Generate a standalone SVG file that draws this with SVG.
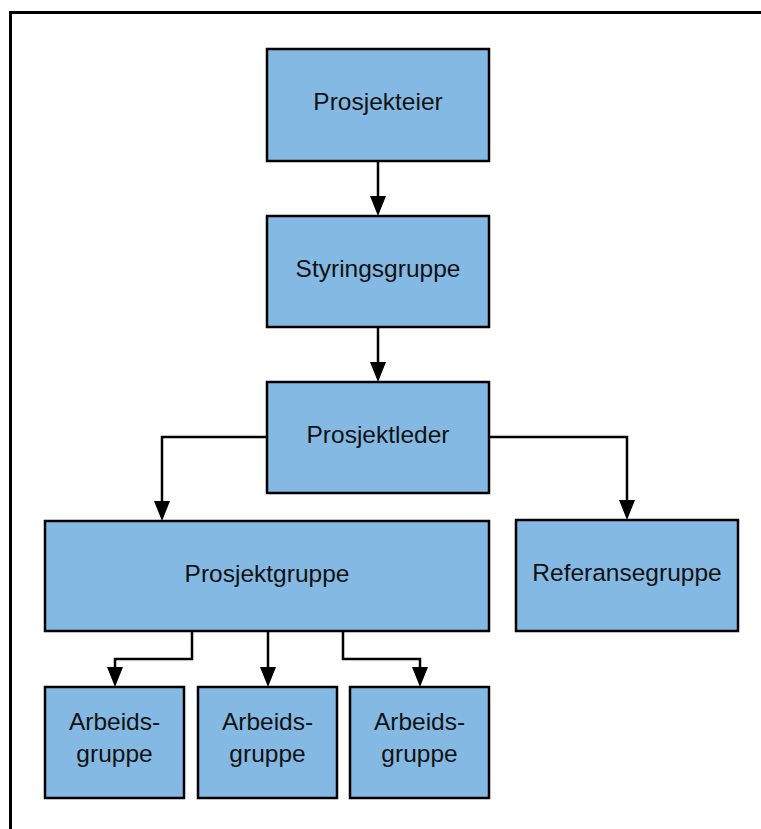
<svg xmlns="http://www.w3.org/2000/svg" width="761" height="829" viewBox="0 0 761 829">
<style>
.box{fill:#84B9E3;stroke:#000;stroke-width:2.5}
.lbl{font-family:"Liberation Sans",Arial,sans-serif;font-size:24.5px;fill:#111;text-anchor:middle}
.c{fill:none;stroke:#000;stroke-width:2.5}
</style>
<rect width="761" height="829" fill="#fff"/>
<path d="M10.5,829 V12.5 H761" fill="none" stroke="#000" stroke-width="3"/>
<g id="connectors">
<path class="c" d="M378,161 V196"/>
<path d="M370,196 H386 L378,216 Z"/>
<path class="c" d="M378,327 V362"/>
<path d="M370,362 H386 L378,382 Z"/>
<path class="c" d="M267,437 H162 V501"/>
<path d="M154,501 H170 L162,521 Z"/>
<path class="c" d="M489,437 H627 V500"/>
<path d="M619,500 H635 L627,520 Z"/>
<path class="c" d="M192,631 V659 H115 V667"/>
<path d="M107,667 H123 L115,687 Z"/>
<path class="c" d="M268,631 V667"/>
<path d="M260,667 H276 L268,687 Z"/>
<path class="c" d="M343,631 V659 H420 V667"/>
<path d="M412,667 H428 L420,687 Z"/>
</g>
<g id="prosjekteier">
<rect class="box" x="267" y="49" width="222" height="112"/>
<text class="lbl" x="378" y="110">Prosjekteier</text>
</g>
<g id="styringsgruppe">
<rect class="box" x="267" y="216" width="222" height="111"/>
<text class="lbl" x="378" y="277">Styringsgruppe</text>
</g>
<g id="prosjektleder">
<rect class="box" x="267" y="382" width="222" height="111"/>
<text class="lbl" x="378" y="443">Prosjektleder</text>
</g>
<g id="prosjektgruppe">
<rect class="box" x="45" y="521" width="444" height="110"/>
<text class="lbl" x="267" y="581.5">Prosjektgruppe</text>
</g>
<g id="referansegruppe">
<rect class="box" x="516" y="520" width="222" height="111"/>
<text class="lbl" x="627" y="581">Referansegruppe</text>
</g>
<g id="arbeidsgruppe1">
<rect class="box" x="45" y="687" width="139" height="111"/>
<text class="lbl" x="114.5" y="730">Arbeids-</text>
<text class="lbl" x="114.5" y="761.5">gruppe</text>
</g>
<g id="arbeidsgruppe2">
<rect class="box" x="198" y="687" width="139" height="111"/>
<text class="lbl" x="267.5" y="730">Arbeids-</text>
<text class="lbl" x="267.5" y="761.5">gruppe</text>
</g>
<g id="arbeidsgruppe3">
<rect class="box" x="350" y="687" width="139" height="111"/>
<text class="lbl" x="419.5" y="730">Arbeids-</text>
<text class="lbl" x="419.5" y="761.5">gruppe</text>
</g>
</svg>
